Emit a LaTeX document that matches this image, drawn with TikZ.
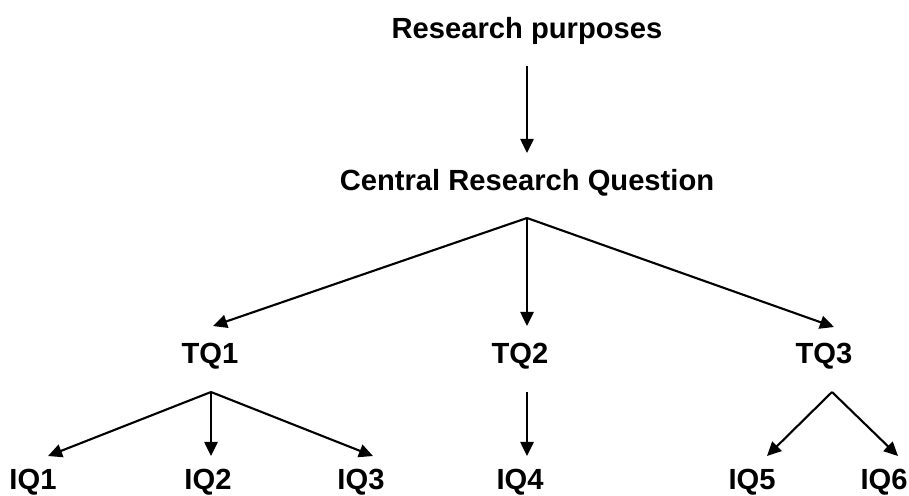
\documentclass[tikz,border=0pt]{standalone}
\usepackage{fontspec}
\setmainfont{Liberation Sans}
\usetikzlibrary{arrows.meta}
\begin{document}
\begin{tikzpicture}[x=0.02cm,y=-0.02cm,
  lbl/.style={font=\fontsize{16.6}{19}\selectfont\bfseries, anchor=base, inner sep=0pt},
  arr/.style={line width=1.2pt, -{Triangle[length=8pt,width=7.5pt]}}]
\useasboundingbox (0,0) rectangle (909,495);

% labels
\node[lbl] (rp)  at (527,38)  {Research purposes};
\node[lbl] (crq) at (527,190) {Central Research Question};
\node[lbl] (tq1) at (210,363) {TQ1};
\node[lbl] (tq2) at (520,363) {TQ2};
\node[lbl] (tq3) at (824,363) {TQ3};
\node[lbl] (iq1) at (33,489)  {IQ1};
\node[lbl] (iq2) at (208,489) {IQ2};
\node[lbl] (iq3) at (361,489) {IQ3};
\node[lbl] (iq4) at (520,489) {IQ4};
\node[lbl] (iq5) at (752,489) {IQ5};
\node[lbl] (iq6) at (884,489) {IQ6};

% branching points and arrow tips
\coordinate (rpout) at (527,66);
\coordinate (crqin) at (527,153);
\coordinate (crqfork) at (527,218);
\coordinate (tq1in) at (213,326);
\coordinate (tq2in) at (527,326);
\coordinate (tq3in) at (834,327);
\coordinate (tq1fork) at (211,392);
\coordinate (tq2out) at (527,392);
\coordinate (tq3fork) at (832,392);
\coordinate (iq1in) at (48,456);
\coordinate (iq2in) at (211,456);
\coordinate (iq3in) at (373,456);
\coordinate (iq4in) at (527,456);
\coordinate (iq5in) at (767,456);
\coordinate (iq6in) at (898,456);

% connectors
\draw[arr] (rpout) -- (crqin);
\draw[arr] (crqfork) -- (tq1in);
\draw[arr] (crqfork) -- (tq2in);
\draw[arr] (crqfork) -- (tq3in);
\draw[arr] (tq1fork) -- (iq1in);
\draw[arr] (tq1fork) -- (iq2in);
\draw[arr] (tq1fork) -- (iq3in);
\draw[arr] (tq2out) -- (iq4in);
\draw[arr] (tq3fork) -- (iq5in);
\draw[arr] (tq3fork) -- (iq6in);
\end{tikzpicture}
\end{document}
